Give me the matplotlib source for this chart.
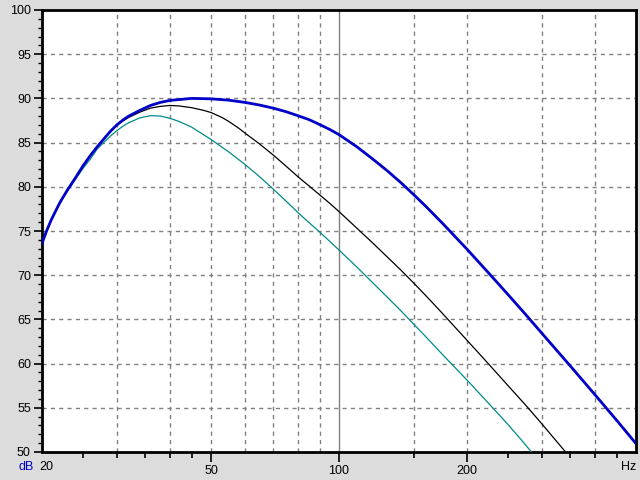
import matplotlib
matplotlib.use("Agg")
import matplotlib.pyplot as plt
from matplotlib.ticker import FixedLocator, NullFormatter

plt.rcParams['font.family'] = ['Liberation Sans', 'DejaVu Sans']

# --- data ---
freq_blue = [20, 20.5, 21, 21.5, 22, 22.5, 23, 24, 25, 26, 27, 28, 29, 30, 31, 32, 34,
             36, 38, 40, 45, 50, 55, 60, 65, 70, 75, 80, 85, 90, 95, 100, 110, 120,
             130, 140, 150, 160, 175, 200, 225, 250, 275, 300, 350, 400, 450, 500]
db_blue = [73.6, 75.0, 76.2, 77.2, 78.15, 78.95, 79.7, 81.05, 82.4, 83.55, 84.55, 85.45,
           86.3, 87.0, 87.55, 88.0, 88.65, 89.2, 89.55, 89.77, 90.0, 89.95, 89.8, 89.55,
           89.25, 88.9, 88.5, 88.05, 87.6, 87.05, 86.5, 85.9, 84.55, 83.15, 81.8, 80.45,
           79.1, 77.8, 75.9, 72.95, 70.25, 67.8, 65.55, 63.45, 59.75, 56.5, 53.6, 50.95]

freq_black = [20, 20.5, 21, 21.5, 22, 22.5, 23, 24, 25, 26, 27, 28, 29, 30, 31, 32, 34,
              36, 38, 40, 42, 45, 48, 50, 53, 55, 58, 60, 65, 70, 75, 80, 85, 90, 95,
              100, 110, 120, 130, 140, 150, 160, 175, 200, 225, 250, 275, 300, 320,
              340, 350]
db_black = [73.6, 75.0, 76.2, 77.2, 78.15, 78.95, 79.7, 81.05, 82.4, 83.55, 84.55, 85.45,
            86.3, 86.95, 87.45, 87.85, 88.45, 88.9, 89.1, 89.2, 89.15, 88.95, 88.65, 88.4,
            87.85, 87.4, 86.65, 86.1, 84.85, 83.6, 82.35, 81.15, 80.1, 79.1, 78.15, 77.2,
            75.35, 73.65, 72.05, 70.55, 69.1, 67.7, 65.7, 62.65, 59.95, 57.5, 55.3, 53.2,
            51.6, 50.1, 49.35]

freq_teal = [20, 20.5, 21, 21.5, 22, 22.5, 23, 24, 25, 26, 27, 28, 29, 30, 31, 32, 34,
             36, 38, 40, 42, 45, 50, 55, 60, 65, 70, 75, 80, 85, 90, 95, 100, 110, 120,
             130, 140, 150, 160, 175, 200, 225, 250, 265, 281, 290]
db_teal = [73.6, 75.0, 76.15, 77.15, 78.1, 78.9, 79.6, 80.9, 82.1, 83.15, 84.3, 85.05,
           85.75, 86.35, 86.85, 87.25, 87.8, 88.05, 88.0, 87.75, 87.4, 86.75, 85.35,
           83.95, 82.55, 81.15, 79.75, 78.4, 77.1, 75.95, 74.9, 73.85, 72.85, 70.95,
           69.15, 67.5, 65.95, 64.45, 63.05, 61.05, 58.15, 55.5, 53.1, 51.7, 50.25, 49.45]

x_grid = [30, 40, 50, 60, 70, 80, 90, 150, 200, 300, 400]
x_major_ticks = [50, 100, 200]
x_minor_ticks = [25, 30, 35, 40, 45, 150, 250, 300, 350, 400, 450]
x_labels = ["50", "100", "200"]
y_major = [50, 55, 60, 65, 70, 75, 80, 85, 90, 95, 100]

BG = "#dcdcdc"
fig = plt.figure(figsize=(6.4, 4.8), dpi=100, facecolor=BG)
ax = fig.add_axes([42/640, 1-452/480, (636-42)/640, (452-10)/480])
ax.set_facecolor("white")
ax.set_xscale("log")
ax.set_xlim(20, 500)
ax.set_ylim(50, 100)

# grid
for f in x_grid:
    ax.axvline(f, color="#808080", lw=1.0, ls=(0, (3, 3)), zorder=1)
ax.axvline(100, color="#808080", lw=1.0, ls="-", zorder=1)
for y in y_major[1:-1]:
    ax.axhline(y, color="#808080", lw=1.0, ls=(0, (3, 3)), zorder=1)

ax.plot(freq_teal, db_teal, color="#008b8b", lw=0.9, zorder=3)
ax.plot(freq_black, db_black, color="black", lw=0.9, zorder=4)
ax.plot(freq_blue, db_blue, color="#0000c8", lw=2.0, zorder=5)

for s in ax.spines.values():
    s.set_linewidth(2.0)
    s.set_color("black")

ax.xaxis.set_major_locator(FixedLocator(x_major_ticks))
ax.xaxis.set_minor_locator(FixedLocator(x_minor_ticks))
ax.set_xticklabels(x_labels)
ax.xaxis.set_minor_formatter(NullFormatter())
ax.yaxis.set_major_locator(FixedLocator(y_major))
ax.yaxis.set_minor_locator(FixedLocator(list(range(50, 101))))
ax.set_yticklabels([str(v) for v in y_major])

ax.tick_params(axis="both", which="major", direction="out", width=1.2, labelsize=9, colors="black", pad=2)
ax.tick_params(axis="x", which="major", length=7)
ax.tick_params(axis="x", which="minor", length=4, width=1.2)
ax.tick_params(axis="y", which="major", length=6)
ax.tick_params(axis="y", which="minor", length=3, width=1.0)

fig.text(26.5/640, 1-467/480, "dB", color="#0000c8", fontsize=9, ha="center", va="center")
fig.text(46/640, 1-467/480, "20", color="black", fontsize=9, ha="center", va="center")
fig.text(636/640, 1-467/480, "Hz", color="black", fontsize=9, ha="right", va="center")

fig.savefig("out.png", dpi=100, facecolor=BG)
